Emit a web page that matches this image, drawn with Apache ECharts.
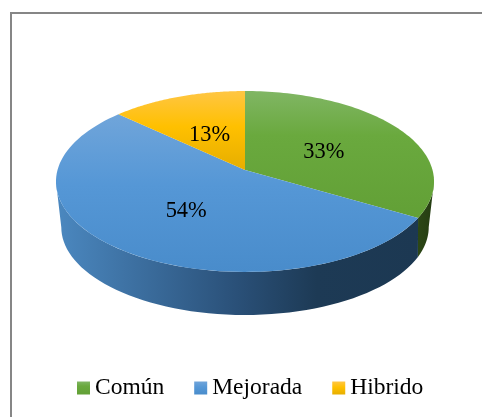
<!DOCTYPE html>
<html>
<head>
<meta charset="utf-8">
<style>
html,body{margin:0;padding:0;background:#fff;}
#main{width:482px;height:417px;}
</style>
<script src="https://cdn.jsdelivr.net/npm/echarts@6/dist/echarts.min.js"></script>
</head>
<body>
<div id="main"></div>
<script>
var categories=["Común","Mejorada","Hibrido"];
var values=[33.4,53.5,13.1];

var topColors=[
	[[0,'#80b664'],[0.35,'#6aa93e'],[1,'#62a036']],
	[[0,'#70a5da'],[0.45,'#5597d6'],[1,'#498ccb']],
	[[0,'#ffc644'],[0.45,'#ffc000'],[1,'#e6ae00']]
];
var wallColors=[
	[[0,'#2c4716'],[1,'#253c12']],
	[[0,'#4b88c0'],[0.5,'#2a5078'],[0.72,'#1d3a55'],[1,'#1c3852']],
	[[0,'#8a6a00'],[1,'#8a6a00']]
];

// 透视椭圆的参数：顶面和底面各一组
var cx=245;
var topShape={k:187.5,c:0.127,a:-67.4,b:170};
var lowShape={k:180,c:0.2,a:-42.3,b:209.7};
var wallSteps=60,faceSteps=90,labelDrop=3.5;
var total=0;
for(var i=0;i<values.length;i++){total+=values[i];}

function grad(stops,x2,y2){
	var list=[];
	for(var i=0;i<stops.length;i++){list.push({offset:stops[i][0],color:stops[i][1]});}
	return {type:'linear',x:0,y:0,x2:x2,y2:y2,colorStops:list};
}
// 圆上的点投影到画面，角度从正上方顺时针
function project(m,r,deg){
	var t=deg*Math.PI/180;
	var u=r*Math.sin(t),v=r*Math.cos(t),w=m.c*v+1;
	return [cx+m.k*u/w,(m.a*v+m.b)/w];
}
// 椭圆最宽处对应的角度
function widest(m){
	return Math.acos(-m.c)*180/Math.PI;
}

function makeRender(idx){
	return function(params,api){
		var before=0;
		for(var i=0;i<idx;i++){before+=values[i];}
		var start=before/total*360;
		var end=(before+api.value(0))/total*360;
		var children=[];

		// 侧面，只画前面能看见的部分
		var right=widest(topShape),left=360-right;
		var s=Math.max(start,right),e=Math.min(end,left);
		if(e>s){
			var s2=start>right?start:widest(lowShape);
			var e2=end<left?end:360-widest(lowShape);
			var wall=[],back=[];
			for(var j=0;j<=wallSteps;j++){
				wall.push(project(topShape,1,s+(e-s)*j/wallSteps));
				back.unshift(project(lowShape,1,s2+(e2-s2)*j/wallSteps));
			}
			children.push({
				type:'polygon',
				shape:{points:wall.concat(back)},
				style:{fill:grad(wallColors[idx],1,0)}
			});
		}

		// 顶面
		var face=[project(topShape,0,0)];
		for(var n=0;n<=faceSteps;n++){
			face.push(project(topShape,1,start+(end-start)*n/faceSteps));
		}
		children.push({
			type:'polygon',
			shape:{points:face},
			style:{fill:grad(topColors[idx],0,1)},
			z2:5
		});

		// 百分比
		var pos=project(topShape,0.5,(start+end)/2);
		children.push({
			type:'text',
			x:pos[0],
			y:pos[1]+labelDrop,
			z2:10,
			style:{
				text:Math.round(api.value(0)/total*100)+'%',
				fill:'#000',
				font:'22.4px "Liberation Serif"',
				align:'center',
				verticalAlign:'middle'
			}
		});
		return {type:'group',children:children};
	};
}

var series=[];
for(var i=0;i<categories.length;i++){
	series.push({
		name:categories[i],
		type:'custom',
		coordinateSystem:'none',
		silent:true,
		animation:false,
		itemStyle:{color:grad(topColors[i],0,1)},
		data:[[values[i]]],
		renderItem:makeRender(i)
	});
}

var myChart=echarts.init(document.getElementById('main'));
myChart.setOption({
	animation:false,
	legend:{
		data:categories,
		left:72,
		top:371,
		icon:'rect',
		itemWidth:13,
		itemHeight:13,
		itemGap:30,
		selectedMode:false,
		textStyle:{color:'#000',fontFamily:'Liberation Serif',fontSize:23.5}
	},
	graphic:[
		{type:'rect',silent:true,shape:{x:10,y:12,width:472,height:2},style:{fill:'#868686'}},
		{type:'rect',silent:true,shape:{x:10,y:12,width:2,height:405},style:{fill:'#868686'}}
	],
	series:series
});
</script>
</body>
</html>
